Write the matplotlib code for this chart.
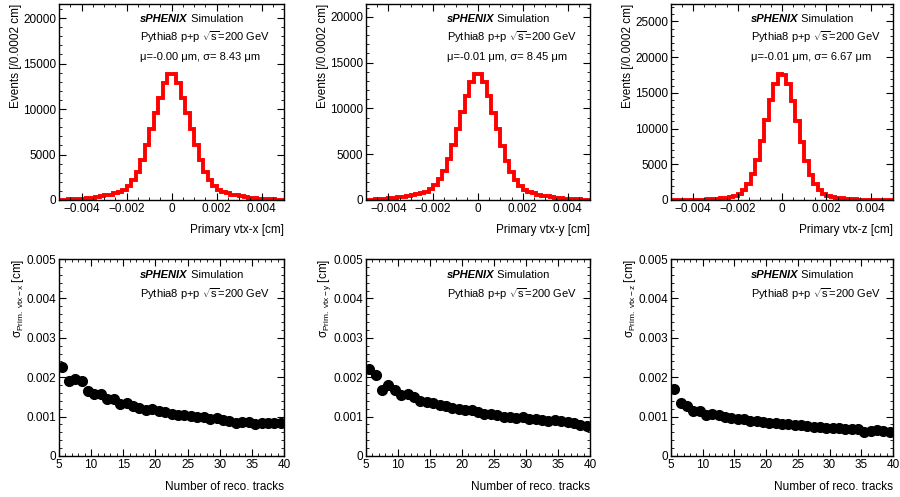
import numpy as np
import matplotlib
matplotlib.use("Agg")
import matplotlib.pyplot as plt
from matplotlib.ticker import MultipleLocator

plt.rcParams['font.family'] = ['Liberation Sans', 'DejaVu Sans']
plt.rcParams['mathtext.fontset'] = 'custom'
plt.rcParams['mathtext.rm'] = 'Liberation Sans'
plt.rcParams['mathtext.it'] = 'Liberation Sans:italic'
plt.rcParams['mathtext.bf'] = 'Liberation Sans:bold'

# histogram binning: 50 bins of 0.0002 cm
edges = np.linspace(-0.005, 0.005, 51)

# bin contents (left to right)
vtx_x = [40, 50, 70, 95, 120, 160, 210, 270, 340, 420, 500, 600, 720, 900,
         1150, 1550, 2200, 3100, 4400, 6000, 7800, 9600, 11200, 12900, 13900,
         13900, 12900, 11200, 9600, 7800, 6000, 4400, 3100, 2200, 1550,
         1150, 900, 720, 600, 500, 420, 340, 270, 210, 160, 120, 90, 70, 50, 40]
vtx_y = [38, 52, 68, 92, 125, 165, 215, 275, 345, 425, 510, 610, 730, 920,
         1180, 1600, 2250, 3150, 4450, 6000, 7800, 9600, 11300, 12900, 13800,
         13800, 12900, 11300, 9500, 7700, 5900, 4300, 3050, 2150, 1500,
         1130, 890, 710, 590, 490, 410, 330, 265, 205, 160, 118, 88, 68, 50, 38]
vtx_z = [8, 10, 15, 20, 28, 38, 50, 65, 90, 120, 160, 220, 300, 420, 600,
         900, 1400, 2200, 3600, 5600, 8200, 11200, 14000, 16300, 17700,
         17500, 16200, 13900, 11100, 8100, 5500, 3550, 2200, 1400, 900,
         600, 420, 300, 220, 160, 120, 90, 65, 50, 38, 28, 20, 15, 10, 8]
hist_labels = ['x', 'y', 'z']
hist_stats = ['\u03bc=-0.00 \u03bcm, \u03c3= 8.43 \u03bcm',
              '\u03bc=-0.01 \u03bcm, \u03c3= 8.45 \u03bcm',
              '\u03bc=-0.01 \u03bcm, \u03c3= 6.67 \u03bcm']

# resolution vs number of tracks
ntrk = np.arange(5.5, 40, 1.0)
res_x = [0.00227, 0.0019, 0.00195, 0.0019, 0.00165, 0.00157, 0.00158, 0.00145,
         0.00145, 0.00133, 0.00134, 0.00127, 0.00122, 0.00118, 0.00119, 0.00114,
         0.00111, 0.00107, 0.00105, 0.00104, 0.00101, 0.00100, 0.00099, 0.00095,
         0.00096, 0.00092, 0.00089, 0.00084, 0.00087, 0.00086, 0.00082, 0.00084,
         0.00084, 0.00084, 0.00084]
res_y = [0.0022, 0.00205, 0.00167, 0.0018, 0.00167, 0.00155, 0.00157, 0.0015,
         0.0014, 0.00137, 0.00134, 0.0013, 0.00126, 0.00123, 0.00119, 0.00116,
         0.00116, 0.00112, 0.00107, 0.00106, 0.00105, 0.0010, 0.00099, 0.00097,
         0.00098, 0.00093, 0.00093, 0.00091, 0.00089, 0.00091, 0.00088, 0.00086,
         0.00083, 0.00079, 0.00076]
res_z = [0.0017, 0.00135, 0.00128, 0.00115, 0.00113, 0.00105, 0.00106, 0.00103,
         0.0010, 0.00097, 0.00095, 0.00093, 0.0009, 0.00088, 0.00087, 0.00085,
         0.00083, 0.00081, 0.0008, 0.00078, 0.00078, 0.00076, 0.00074, 0.00073,
         0.00072, 0.0007, 0.0007, 0.00068, 0.00068, 0.00068, 0.00062, 0.00064,
         0.00065, 0.00063, 0.0006]

fig = plt.figure(figsize=(9, 4.97), dpi=100)
W, H = 900.0, 497.0
lefts = [59, 366, 671]
widths = [225, 224, 222]


def style(ax):
    ax.tick_params(which='both', direction='in', top=True, right=True,
                   labelsize=8.5, pad=2)
    ax.tick_params(which='major', length=5)
    ax.tick_params(which='minor', length=2.5)
    for s in ax.spines.values():
        s.set_linewidth(1.0)


def header(ax, lines, x0, ys):
    t1 = ax.text(x0, ys[0], 'sPHENIX', transform=ax.transAxes, fontsize=8,
                 fontweight='bold', fontstyle='italic', va='baseline', ha='left')
    ax.annotate(' Simulation', xy=(1, 0), xycoords=t1, fontsize=8,
                va='bottom', ha='left')
    for s, y in zip(lines, ys[1:]):
        ax.text(x0, y, s, transform=ax.transAxes,
                fontsize=8, va='baseline', ha='left')


hists = [vtx_x, vtx_y, vtx_z]
for i in range(3):
    ax = fig.add_axes([lefts[i] / W, 1 - 200 / H, widths[i] / W, 196 / H])
    vals = np.array(hists[i])
    centers = 0.5 * (edges[1:] + edges[:-1])
    ax.stairs(vals, edges, color='red', lw=2.8)
    ax.errorbar(centers, vals, yerr=np.sqrt(vals), fmt='none', ecolor='red',
                elinewidth=1.2, alpha=0.7)
    ax.set_xlim(-0.005, 0.005)
    ax.set_ylim(0, 1.55 * vals.max())
    ax.xaxis.set_major_locator(MultipleLocator(0.002))
    ax.xaxis.set_minor_locator(MultipleLocator(0.0005))
    ax.yaxis.set_major_locator(MultipleLocator(5000))
    ax.yaxis.set_minor_locator(MultipleLocator(1000))
    ax.xaxis.set_major_formatter(plt.FuncFormatter(
        lambda v, p: '0' if abs(v) < 1e-9 else ('%.3f' % v).replace('-', '\u2212')))
    style(ax)
    ax.set_xlabel('Primary vtx-%s [cm]' % hist_labels[i], fontsize=8.5,
                  loc='right', labelpad=7)
    ax.set_ylabel('Events [/0.0002 cm]', fontsize=8.5, loc='top', labelpad=1)
    header(ax, ['Pythia8 p+p $\\sqrt{\\mathrm{s}}$=200 GeV', hist_stats[i]],
           0.36, [0.908, 0.811, 0.714])

res = [res_x, res_y, res_z]
for i in range(3):
    ax = fig.add_axes([lefts[i] / W, 1 - 456 / H, widths[i] / W, 197 / H])
    ax.plot(ntrk, res[i], 'o', color='black', ms=7)
    ax.set_xlim(5, 40)
    ax.set_ylim(0, 0.005)
    ax.xaxis.set_major_locator(MultipleLocator(5))
    ax.xaxis.set_minor_locator(MultipleLocator(1))
    ax.yaxis.set_major_locator(MultipleLocator(0.001))
    ax.yaxis.set_minor_locator(MultipleLocator(0.0002))
    ax.yaxis.set_major_formatter(plt.FuncFormatter(
        lambda v, p: '0' if abs(v) < 1e-12 else '%.3f' % v))
    style(ax)
    ax.set_xlabel('Number of reco. tracks', fontsize=8.5, loc='right',
                  labelpad=7)
    ax.set_ylabel('\u03c3$_{\\mathrm{Prim.\\ vtx-%s}}$ [cm]' % hist_labels[i],
                  fontsize=8.5, loc='top', labelpad=0)
    header(ax, ['Pythia8 p+p $\\sqrt{\\mathrm{s}}$=200 GeV'], 0.36,
           [0.902, 0.804])

fig.savefig('out.png', dpi=100)
